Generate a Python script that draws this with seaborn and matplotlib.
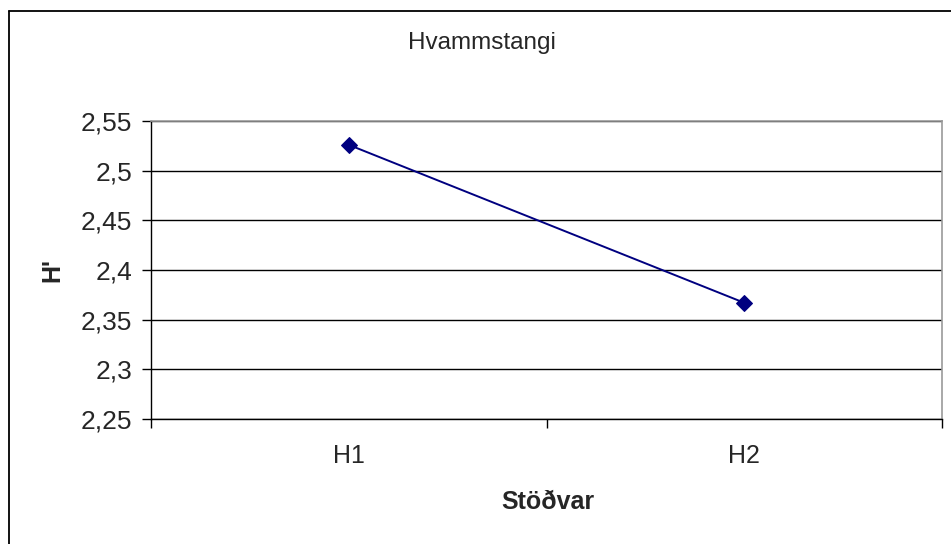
import pandas as pd
import matplotlib
matplotlib.use('Agg')
import matplotlib.pyplot as plt
import seaborn as sns
from matplotlib.ticker import FuncFormatter, FixedLocator
from matplotlib.lines import Line2D

stations = ['H1', 'H2']
h_values = [2.526, 2.367]
y_ticks = [2.25, 2.3, 2.35, 2.4, 2.45, 2.5, 2.55]

data = pd.DataFrame({'station': stations, 'H': h_values})

sns.set_style('white')
plt.rcParams['font.family'] = ['Liberation Sans', 'DejaVu Sans']

fig = plt.figure(figsize=(9.51, 5.44), dpi=100)
ax = fig.add_axes([151/951, 125/544, 791/951, 298/544])

sns.lineplot(data=data, x='station', y='H', marker='D', markersize=8.5,
             color='#000080', markeredgecolor='#000080', linewidth=1.4, ax=ax)

ax.set_xlim(-0.5, 1.5)
ax.set_ylim(2.25, 2.55)
ax.yaxis.set_major_locator(FixedLocator(y_ticks))
ax.yaxis.set_major_formatter(FuncFormatter(lambda v, p: f"{v:g}".replace('.', ',')))
ax.grid(axis='y', color='black', linewidth=1)
ax.set_axisbelow(True)

# category boundaries as ticks, labels centered on categories
ax.set_xticks([-0.5, 0.5, 1.5])
ax.set_xticklabels(['', '', ''])
ax.set_xticks([0, 1], minor=True)
ax.set_xticklabels(stations, minor=True)
ax.tick_params(axis='x', which='major', bottom=True, length=6.5, direction='out', color='black', width=1)
ax.tick_params(axis='x', which='minor', bottom=True, length=0, pad=18, labelsize=18)
ax.tick_params(axis='y', left=True, length=6.5, direction='out', color='black', width=1, labelsize=19, pad=7)

for s in ['left', 'bottom']:
    ax.spines[s].set_color('black')
    ax.spines[s].set_linewidth(1)
for s in ['top', 'right']:
    ax.spines[s].set_color('#999999')
    ax.spines[s].set_linewidth(1.2)

ax.set_xlabel('')
ax.set_ylabel('')
fig.text(52/951, 1 - 270/544, "H'", rotation=90, ha='center', va='center',
         fontsize=18, fontweight='bold')
fig.text(548/951, 1 - 502/544, 'Stöðvar', ha='center', va='center',
         fontsize=18, fontweight='bold')
fig.text(482/951, 1 - 43/544, 'Hvammstangi', ha='center', va='center', fontsize=17.5)

# outer chart border (only left and top are inside the picture)
fig.lines.append(Line2D([8.5/951, 8.5/951], [0, 1 - 11/544], transform=fig.transFigure,
                        color='black', linewidth=1.3))
fig.lines.append(Line2D([8.5/951, 1], [1 - 11/544, 1 - 11/544], transform=fig.transFigure,
                        color='black', linewidth=1.3))

fig.savefig('out.png', dpi=100)
